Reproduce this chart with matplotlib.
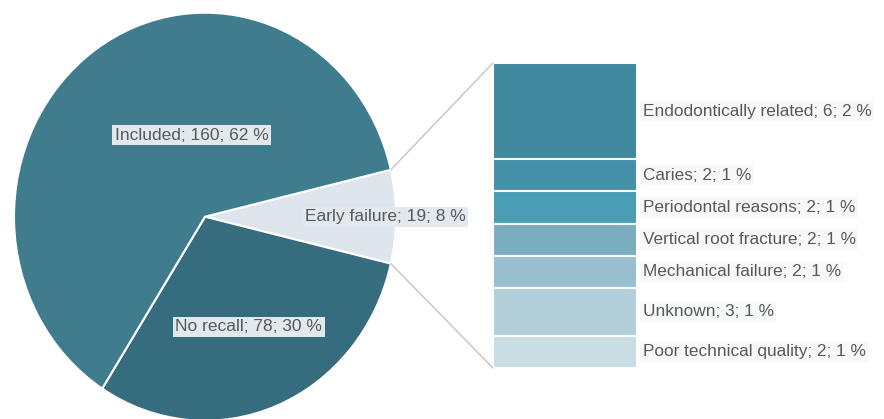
import matplotlib
matplotlib.use("Agg")
import matplotlib.pyplot as plt
from matplotlib.patches import ConnectionPatch
import numpy as np

plt.rcParams['font.family'] = ['Liberation Sans', 'DejaVu Sans']

# Pie data (drawn clockwise starting with Early failure)
pie_names = ["Early failure", "No recall", "Included"]
pie_counts = [19, 78, 160]
pie_pcts = [8, 30, 62]
pie_colors = ["#dce6ec", "#356c7e", "#3e7c8e"]

# Breakdown of Early failure (top to bottom)
bar_names = ["Endodontically related", "Caries", "Periodontal reasons",
             "Vertical root fracture", "Mechanical failure", "Unknown",
             "Poor technical quality"]
bar_counts = [6, 2, 2, 2, 2, 3, 2]
bar_pcts = [2, 1, 1, 1, 1, 1, 1]
bar_colors = ["#3f889e", "#4390a8", "#4b9cb5", "#7badc1", "#98bfcf",
              "#b3cfd9", "#c9dde5"]

W, H = 884, 419
fig = plt.figure(figsize=(W / 100, H / 100), dpi=100)

# Pie axes (slightly elliptical as in the reference)
cx, cy, rx, ry = 205, 216.7, 191, 204
ax = fig.add_axes([(cx - rx) / W, (H - cy - ry) / H, 2 * rx / W, 2 * ry / H])
total = sum(pie_counts)
start = 180.0 * pie_counts[0] / total
wedges, _ = ax.pie(pie_counts, colors=pie_colors, startangle=start,
                   counterclock=False,
                   wedgeprops=dict(edgecolor="white", linewidth=1.5))
ax.set_aspect("auto")
ax.set_xlim(-1, 1)
ax.set_ylim(-1, 1)
ax.axis("off")

label_pos = {"Early failure": (0.945, 0.0),
             "No recall": (0.23, -0.54),
             "Included": (-0.07, 0.40)}
for n, c, p in zip(pie_names, pie_counts, pie_pcts):
    x, y = label_pos[n]
    ax.text(x, y, f"{n}; {c}; {p} %", ha="center", va="center",
            fontsize=12.5, color="#595959",
            bbox=dict(boxstyle="square,pad=0.15", facecolor="#e1e9ee",
                      edgecolor="none"))

# Bar axes
bx0, bx1, by0, by1 = 493, 637, 63, 368
axb = fig.add_axes([bx0 / W, (H - by1) / H, (bx1 - bx0) / W, (by1 - by0) / H])
bottoms = np.concatenate([[0], np.cumsum(bar_counts)[:-1]])
axb.bar(np.zeros(len(bar_counts)), bar_counts, bottom=bottoms, width=1.0,
        color=bar_colors, edgecolor="white", linewidth=1.5)
axb.set_xlim(-0.5, 0.5)
axb.set_ylim(sum(bar_counts), 0)
axb.axis("off")
for n, c, p, b in zip(bar_names, bar_counts, bar_pcts, bottoms):
    axb.annotate(f"{n}; {c}; {p} %", xy=(0.5, b + c / 2), xytext=(4, 0),
                 textcoords="offset points", ha="left", va="center",
                 fontsize=12.4, color="#595959", annotation_clip=False,
                 bbox=dict(boxstyle="square,pad=0.15", facecolor="#f7f8f8",
                           edgecolor="none"))

# Connector lines
th = np.deg2rad(start)
for sgn, yb in [(1, 0), (-1, sum(bar_counts))]:
    con = ConnectionPatch(xyA=(np.cos(th), sgn * np.sin(th)), coordsA=ax.transData,
                          xyB=(-0.5, yb), coordsB=axb.transData,
                          color="#c4c4c4", linewidth=1.0)
    fig.add_artist(con)

fig.savefig("out.png", dpi=100, facecolor="white")
